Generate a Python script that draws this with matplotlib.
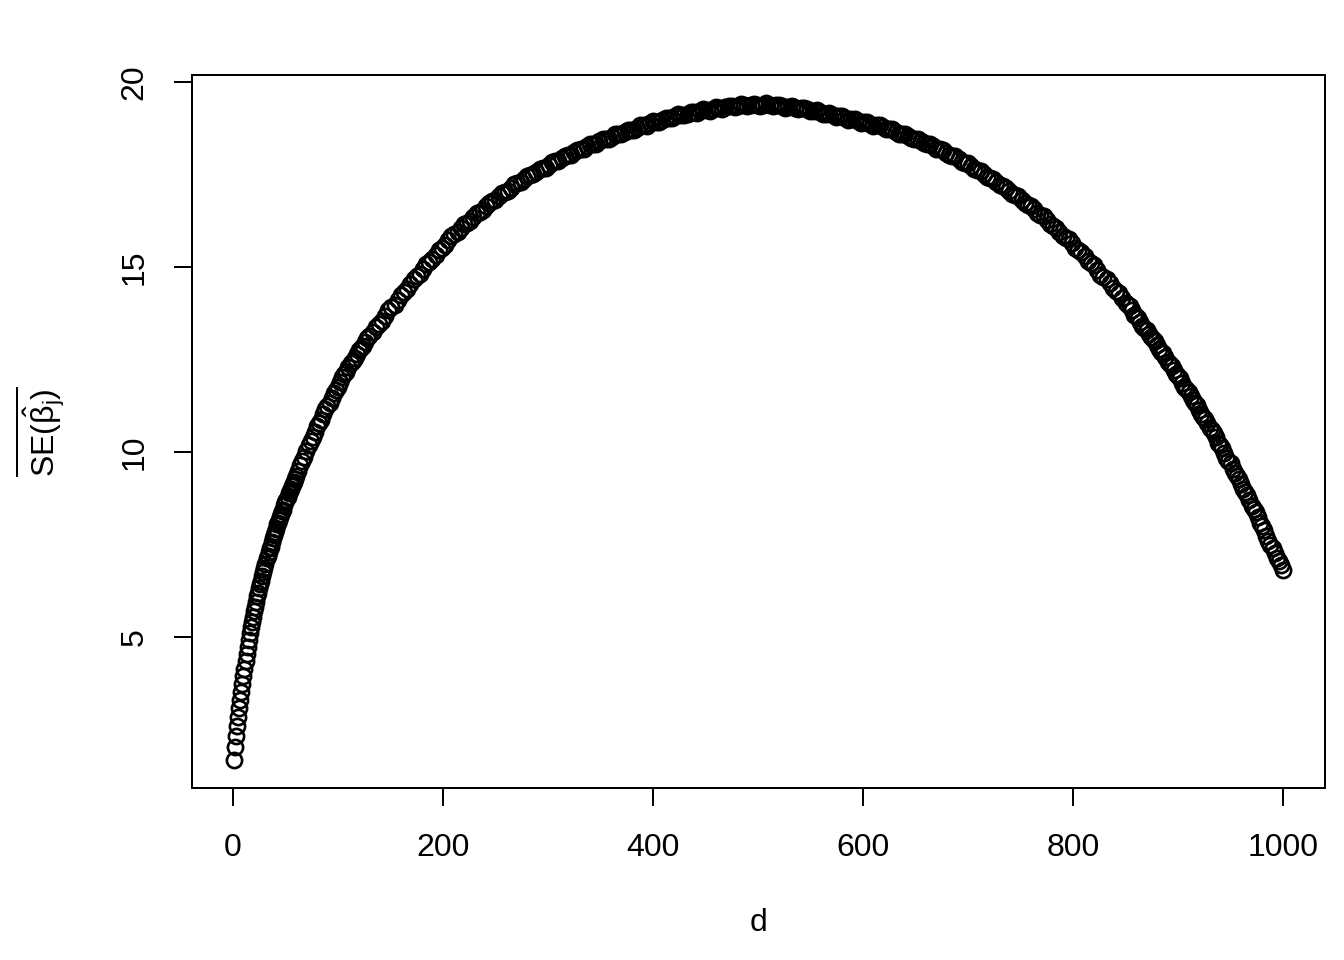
import matplotlib
matplotlib.use("Agg")
import matplotlib.pyplot as plt
import numpy as np

# Values (mean SE of beta_j against d)
# d = 1..60, step 1
se_a = [1.68, 2.04, 2.34, 2.60, 2.84, 3.08, 3.31, 3.53, 3.74, 3.95,
        4.15, 4.36, 4.56, 4.74, 4.93, 5.11, 5.27, 5.42, 5.56, 5.70,
        5.83, 5.96, 6.12, 6.20, 6.32, 6.44, 6.51, 6.66, 6.77, 6.88,
        6.98, 7.13, 7.19, 7.30, 7.40, 7.45, 7.58, 7.67, 7.76, 7.85,
        7.93, 8.05, 8.09, 8.17, 8.25, 8.33, 8.41, 8.45, 8.57, 8.65,
        8.72, 8.79, 8.91, 8.94, 9.01, 9.08, 9.15, 9.19, 9.29, 9.36]
# d = 62..130, step 2
se_b = [9.50, 9.66, 9.76, 9.87, 10.03, 10.19, 10.29, 10.40, 10.54, 10.70,
        10.79, 10.88, 11.02, 11.17, 11.25, 11.33, 11.47, 11.61, 11.69, 11.77,
        11.90, 12.03, 12.10, 12.18, 12.29, 12.41, 12.47, 12.54, 12.64, 12.76,
        12.81, 12.87, 12.97, 13.08, 13.13]
# d = 133..850, step 3
se_c = [13.24, 13.38, 13.47, 13.55, 13.69, 13.83, 13.91, 13.98, 14.12, 14.25,
        14.33, 14.40, 14.54, 14.67, 14.75, 14.82, 14.95, 15.08, 15.15, 15.22,
        15.34, 15.47, 15.53, 15.59, 15.72, 15.84, 15.89, 15.94, 16.05, 16.16,
        16.20, 16.25, 16.35, 16.46, 16.50, 16.55, 16.64, 16.74, 16.78, 16.81,
        16.91, 17.00, 17.03, 17.06, 17.15, 17.24, 17.27, 17.29, 17.38, 17.46,
        17.48, 17.51, 17.58, 17.66, 17.68, 17.69, 17.77, 17.84, 17.86, 17.87,
        17.94, 18.01, 18.02, 18.03, 18.10, 18.17, 18.18, 18.19, 18.26, 18.33,
        18.33, 18.33, 18.40, 18.46, 18.46, 18.46, 18.52, 18.59, 18.59, 18.59,
        18.65, 18.71, 18.71, 18.71, 18.77, 18.83, 18.83, 18.82, 18.88, 18.94,
        18.93, 18.93, 18.98, 19.04, 19.03, 19.02, 19.08, 19.13, 19.11, 19.10,
        19.15, 19.20, 19.19, 19.17, 19.22, 19.27, 19.25, 19.23, 19.27, 19.32,
        19.30, 19.28, 19.32, 19.36, 19.34, 19.32, 19.35, 19.40, 19.37, 19.34,
        19.37, 19.42, 19.38, 19.35, 19.38, 19.43, 19.37, 19.34, 19.37, 19.39,
        19.35, 19.31, 19.33, 19.35, 19.31, 19.27, 19.29, 19.30, 19.26, 19.21,
        19.22, 19.24, 19.19, 19.14, 19.15, 19.16, 19.11, 19.06, 19.07, 19.08,
        19.03, 18.98, 18.99, 19.00, 18.95, 18.90, 18.91, 18.92, 18.87, 18.82,
        18.83, 18.84, 18.78, 18.72, 18.72, 18.72, 18.66, 18.60, 18.60, 18.60,
        18.54, 18.48, 18.47, 18.47, 18.40, 18.34, 18.33, 18.33, 18.26, 18.19,
        18.18, 18.16, 18.09, 18.02, 18.00, 17.99, 17.91, 17.84, 17.82, 17.80,
        17.72, 17.64, 17.63, 17.61, 17.52, 17.44, 17.41, 17.39, 17.30, 17.21,
        17.18, 17.15, 17.06, 16.97, 16.94, 16.91, 16.82, 16.73, 16.69, 16.66,
        16.56, 16.46, 16.41, 16.37, 16.27, 16.16, 16.11, 16.07, 15.96, 15.85,
        15.80, 15.75, 15.64, 15.52, 15.47, 15.41, 15.29, 15.17, 15.11, 15.05,
        14.93, 14.80, 14.74, 14.68, 14.56, 14.43, 14.36, 14.29, 14.17, 14.04]
# d = 852..1000, step 2
se_d = [13.99, 13.94, 13.83, 13.72, 13.67, 13.62, 13.51, 13.40, 13.36, 13.31,
        13.20, 13.10, 13.05, 13.00, 12.89, 12.78, 12.72, 12.67, 12.56, 12.44,
        12.39, 12.34, 12.22, 12.11, 12.05, 12.00, 11.88, 11.77, 11.71, 11.64,
        11.52, 11.40, 11.34, 11.27, 11.15, 11.03, 10.96, 10.90, 10.78, 10.66,
        10.59, 10.53, 10.40, 10.26, 10.19, 10.12, 9.98, 9.85, 9.77, 9.70,
        9.56, 9.43, 9.35, 9.27, 9.14, 9.00, 8.92, 8.84, 8.70, 8.55,
        8.47, 8.38, 8.24, 8.09, 8.00, 7.90, 7.75, 7.59, 7.50, 7.42,
        7.27, 7.13, 7.05, 6.96, 6.82]

d_a = list(range(1, 61))
d_b = list(range(62, 131, 2))
d_c = list(range(133, 851, 3))
d_d = list(range(852, 1001, 2))

d = np.array(d_a + d_b + d_c + d_d)
se = np.array(se_a + se_b + se_c + se_d)
assert len(d) == len(se), (len(d), len(se))

plt.rcParams['font.family'] = ['Liberation Sans', 'DejaVu Sans']
plt.rcParams['mathtext.fontset'] = 'custom'
plt.rcParams['mathtext.rm'] = 'Liberation Sans'
plt.rcParams['mathtext.it'] = 'Liberation Sans:italic'
plt.rcParams['font.size'] = 12

fig = plt.figure(figsize=(7, 5), dpi=192)
ax = fig.add_axes([192 / 1344, 1 - 788 / 960, (1325 - 192) / 1344, (788 - 75) / 960])

# open circles, like R's default pch = 1
ax.plot(d, se, 'o', mfc='none', mec='black', ms=5.7, mew=1.0)

ax.set_xlim(-38.96, 1039.96)
ax.set_ylim(0.93, 20.19)
ax.set_xticks([0, 200, 400, 600, 800, 1000])
ax.set_yticks([5, 10, 15, 20])
for lab in ax.get_yticklabels():
    lab.set_rotation(90)
    lab.set_va('center')

ax.tick_params(direction='out', length=6.8, width=0.75)
ax.tick_params(axis='x', pad=10)
ax.tick_params(axis='y', pad=9)
for s in ax.spines.values():
    s.set_linewidth(0.75)

ax.set_xlabel('d', labelpad=17)
ax.set_ylabel(r'$\overline{\mathrm{SE}(\hat{\mathrm{\beta}}_{\mathrm{j}})}$', labelpad=20)

fig.savefig('out.png', dpi=192)
